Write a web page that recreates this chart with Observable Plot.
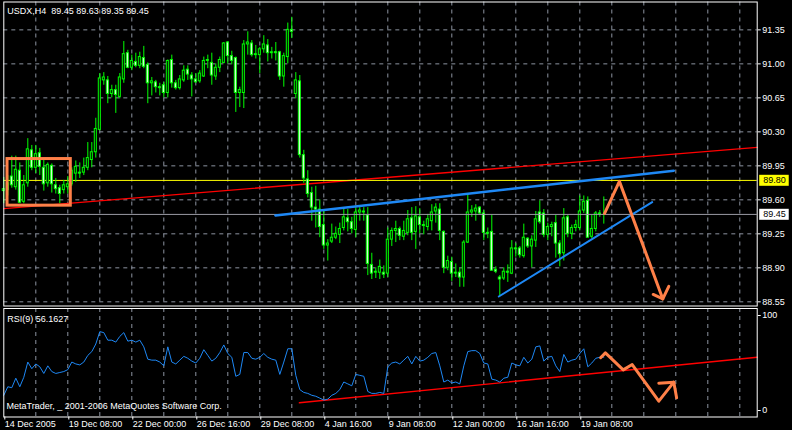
<!DOCTYPE html>
<html><head><meta charset="utf-8">
<script src="https://cdn.jsdelivr.net/npm/d3@7"></script>
<script src="https://cdn.jsdelivr.net/npm/@observablehq/plot@0.6"></script>
<style>
html,body{margin:0;padding:0;background:#000;}
#chart{width:792px;height:430px;background:#000;overflow:hidden;}
#chart svg{display:block;}
</style></head><body><div id="chart"></div>
<script>
// ---- Data (USDX, H4) ----
const opens = [89.69,89.70,89.84,89.73,89.90,89.58,89.77,90.11,89.93,90.08, 89.93,89.77,89.95,89.75,89.72,89.70,89.73,89.76,89.87,89.88, 89.88,89.93,90.01,90.09,90.32,90.83,90.83,90.69,90.73,90.66, 90.84,91.11,90.96,91.02,90.98,91.06,90.99,90.80,90.81,90.76, 90.78,90.70,91.04,90.80,90.75,90.83,90.94,90.88,90.84,90.82, 90.87,91.03,91.01,90.87,90.96,91.01,91.22,91.08,91.06,90.70, 90.70,91.20,91.21,91.09,91.09,91.15,91.19,91.11,91.12,91.12, 90.87,91.07,91.35,90.69,90.82,90.06,89.81,89.67,89.52,89.50, 89.34,89.13,89.17,89.21,89.24,89.31,89.41,89.37,89.29,89.47, 89.48,89.44,88.93,88.85,88.85,88.85,88.84,89.19,89.28,89.30, 89.22,89.26,89.41,89.27,89.42,89.34,89.32,89.38,89.48,89.50, 89.27,88.90,88.96,88.84,88.85,88.80,89.16,89.47,89.48,89.52, 89.46,89.26,89.27,88.88,88.80,88.79,88.86,88.84,89.10,89.10, 89.02,89.20,89.12,89.18,89.47,89.46,89.24,89.32,89.36,89.15, 89.05,89.42,89.25,89.31,89.31,89.49,89.59,89.22,89.30,89.46, 89.45];
const highs = [89.83,89.85,90.05,90.05,89.98,89.85,90.23,90.16,90.16,90.13, 90.01,89.98,89.97,89.82,89.75,89.80,89.84,89.93,90.00,89.98, 90.03,90.19,90.19,90.44,90.90,90.91,90.87,90.78,90.78,90.90, 91.23,91.14,91.09,91.11,91.12,91.18,91.01,90.86,90.83,90.80, 90.81,91.04,91.09,90.83,90.88,90.98,90.98,90.91,90.90,90.93, 91.07,91.09,91.11,91.00,91.07,91.22,91.23,91.13,91.07,90.76, 91.24,91.33,91.24,91.19,91.17,91.29,91.25,91.17,91.22,91.13, 91.11,91.42,91.48,90.91,90.88,90.11,89.90,89.73,89.74,89.60, 89.50,89.19,89.35,89.32,89.36,89.51,89.50,89.42,89.52,89.52, 89.52,89.52,89.05,88.90,88.98,88.92,89.31,89.31,89.38,89.32, 89.38,89.49,89.52,89.53,89.51,89.38,89.45,89.55,89.56,89.56, 89.28,89.02,89.01,88.94,88.90,89.18,89.66,89.54,89.55,89.53, 89.49,89.31,89.44,88.91,88.82,88.90,88.93,89.18,89.15,89.12, 89.35,89.21,89.23,89.48,89.59,89.50,89.36,89.37,89.44,89.18, 89.51,89.44,89.34,89.39,89.64,89.64,89.63,89.44,89.48,89.49, 89.63];
const lows = [89.56,89.64,89.72,89.70,89.56,89.56,89.73,89.90,89.87,89.85, 89.69,89.73,89.67,89.66,89.56,89.66,89.66,89.74,89.78,89.82, 89.85,89.90,89.93,90.03,90.31,90.78,90.59,90.65,90.49,90.64, 90.80,90.95,90.93,90.96,90.95,90.95,90.59,90.67,90.70,90.67, 90.65,90.65,90.75,90.73,90.73,90.81,90.83,90.66,90.80,90.80, 90.86,90.95,90.78,90.83,90.91,91.00,91.00,90.99,90.50,90.55, 90.54,91.09,91.07,91.05,90.90,91.11,91.02,91.05,91.03,90.83, 90.76,91.00,91.26,90.64,90.03,89.77,89.62,89.38,89.31,89.21, 89.09,88.97,89.15,89.19,89.15,89.28,89.27,89.25,89.21,89.38, 89.38,88.82,88.78,88.79,88.78,88.79,88.80,89.12,89.16,89.18, 89.18,89.23,89.18,89.09,89.25,89.24,89.28,89.28,89.36,89.18, 88.84,88.87,88.76,88.80,88.70,88.70,89.15,89.42,89.38,89.44, 89.18,89.20,88.87,88.84,88.61,88.77,88.75,88.83,89.01,89.00, 89.00,89.10,88.90,89.11,89.35,89.21,89.18,89.22,89.00,88.91, 88.97,89.21,89.19,89.27,89.28,89.46,89.21,89.20,89.27,89.42, 89.35];
const closes = [89.71,89.77,89.75,89.91,89.57,89.75,90.12,89.93,90.07,89.94, 89.76,89.96,89.76,89.71,89.66,89.75,89.76,89.90,89.94,89.87, 89.93,90.03,90.09,90.33,90.85,90.86,90.69,90.73,90.68,90.86, 91.10,90.96,91.03,90.98,91.07,90.97,90.80,90.82,90.76,90.75, 90.70,91.03,90.80,90.75,90.84,90.93,90.89,90.84,90.81,90.90, 91.03,91.04,90.88,90.96,91.04,91.21,91.08,91.03,90.70,90.73, 91.20,91.22,91.09,91.10,91.15,91.20,91.11,91.12,91.11,90.87, 91.08,91.35,91.33,90.83,90.06,89.82,89.66,89.52,89.50,89.32, 89.13,89.15,89.21,89.25,89.30,89.42,89.37,89.30,89.47,89.49, 89.47,88.94,88.84,88.86,88.91,88.83,89.19,89.28,89.30,89.23, 89.28,89.40,89.26,89.43,89.34,89.33,89.40,89.47,89.52,89.28, 88.90,88.97,88.84,88.85,88.80,89.16,89.47,89.49,89.51,89.46, 89.26,89.25,88.87,88.86,88.78,88.86,88.85,89.10,89.09,89.03, 89.21,89.12,89.19,89.40,89.37,89.24,89.32,89.34,89.15,89.04, 89.41,89.25,89.31,89.34,89.48,89.58,89.21,89.30,89.46,89.45, 89.45];
const rsiValues = [16,25,24,34,25,35,51,44,49,46, 39,47,41,39,40,41,43,51,49,48, 51,58,62,70,83,82,74,74,72,78, 82,73,74,72,74,67,54,53,53,51, 47,67,51,49,53,57,55,52,50,55, 64,58,52,55,61,69,60,56,36,38, 61,61,55,54,56,60,56,54,53,38, 51,65,65,37,22,19,18,16,15,13, 11,12,16,18,22,30,28,26,38,37, 36,20,18,18,19,18,46,50,51,49, 53,57,49,57,52,53,56,60,61,47, 30,32,29,30,28,47,62,63,63,60, 50,49,33,32,30,34,35,50,48,47, 56,50,54,67,68,52,56,57,47,41, 59,51,53,54,60,65,46,50,55,56, 56.16];

const priceTicks = [88.55, 88.90, 89.25, 89.60, 89.95, 90.30, 90.65, 91.00, 91.35];
const rsiTicks = [0, 100];
const dateTickBars = [0, 16, 32, 48, 64, 80, 96, 112, 128, 144];
const dateTickLabels = ["14 Dec 2005", "19 Dec 08:00", "22 Dec 00:00", "26 Dec 16:00", "29 Dec 08:00", "4 Jan 16:00", "9 Jan 08:00", "12 Jan 00:00", "16 Jan 16:00", "19 Jan 08:00"];
const gridBars = [8,16,24,32,40,48,56,64,72,80,88,96,104,112,120,128,136,144,152,160,168,176,184];

const symbolTitle = "USDX,H4\u00a0\u00a089.45 89.63 89.35 89.45";
const rsiTitle = "RSI(9) 56.1627";
const copyright = "MetaTrader, _ 2001-2006 MetaQuotes Software Corp.";
const resistanceLevel = 89.80;
const bidLevel = 89.45;

// drawn objects (bar index, price / rsi value)
const redTrendMain = [{i: 0, p: 89.51}, {i: 188.35, p: 90.14}];
const blueUpper = [{i: 67.9, p: 89.44}, {i: 167.5, p: 89.90}];
const blueLower = [{i: 123.75, p: 88.605}, {i: 162.1, p: 89.576}];
const orangeBox = [{i1: 0.93, i2: 16.75, p1: 89.54, p2: 90.02}];
const orangeArrowMain = [
  {s: "a", i: 150.2, p: 89.46}, {s: "a", i: 153.9, p: 89.79}, {s: "a", i: 164.75, p: 88.58},
  {s: "b", i: 162.35, p: 88.626}, {s: "b", i: 164.75, p: 88.58}, {s: "b", i: 166.25, p: 88.71}
];
const redTrendRsi = [{i: 73.9, v: 8.1}, {i: 188.35, v: 56.1}];
const orangeArrowRsi = [
  {s: "a", i: 149.2, v: 55.5}, {s: "a", i: 150.4, v: 60.7}, {s: "a", i: 154.85, v: 42.8},
  {s: "a", i: 157.1, v: 48.4}, {s: "a", i: 163.75, v: 9.8}, {s: "a", i: 167.5, v: 29.8},
  {s: "b", i: 163.75, v: 28.7}, {s: "b", i: 167.5, v: 29.8}, {s: "b", i: 168.2, v: 13.4}
];

// ---- Build ----
const bars = opens.map((o, i) => ({i, o, h: highs[i], l: lows[i], c: closes[i]}));
const rsi = rsiValues.map((v, i) => ({i, v}));

const GRID = "#8c93a0";
const LIME = "#00ff00";
const ORANGE = "#ff8048";
const BLUE = "#1e88f5";
const X_DOMAIN = [0, 188.35];
const FONT = "'Liberation Sans', Arial, sans-serif";
const common = {
  width: 792, marginLeft: 3.3, marginRight: 35.3,
  style: {background: "#000", color: "#fff", fontFamily: FONT, fontSize: "9px", overflow: "visible"}
};

const main = Plot.plot({
  ...common,
  height: 306, marginTop: 1.5, marginBottom: 0.5,
  x: {domain: X_DOMAIN, axis: null, label: null},
  y: {domain: [88.507, 91.637], label: null},
  marks: [
    Plot.gridY(priceTicks, {stroke: GRID, strokeOpacity: 1, strokeDasharray: "4,4"}),
    Plot.gridX(gridBars, {stroke: GRID, strokeOpacity: 1, strokeDasharray: "4,4"}),
    Plot.line(redTrendMain, {x: "i", y: "p", stroke: "#ff0000", strokeWidth: 1.4}),
    Plot.ruleY([resistanceLevel], {stroke: "#ffff00", strokeWidth: 1}),
    Plot.ruleX(bars, {x: "i", y1: "l", y2: "h", stroke: LIME}),
    Plot.rect(bars.filter(d => d.c > d.o), {x1: d => d.i - 0.25, x2: d => d.i + 0.25, y1: "o", y2: "c", fill: "#000", stroke: LIME}),
    Plot.rect(bars.filter(d => d.c < d.o), {x1: d => d.i - 0.25, x2: d => d.i + 0.25, y1: "o", y2: "c", fill: "#fff", stroke: LIME}),
    Plot.ruleY(bars.filter(d => d.c === d.o), {y: "c", x1: d => d.i - 0.4, x2: d => d.i + 0.4, stroke: LIME}),
    Plot.ruleY([bidLevel], {stroke: "#9a9aa4", strokeWidth: 1}),
    Plot.line(blueUpper, {x: "i", y: "p", stroke: BLUE, strokeWidth: 2.5}),
    Plot.line(blueLower, {x: "i", y: "p", stroke: BLUE, strokeWidth: 2}),
    Plot.rect(orangeBox, {x1: "i1", x2: "i2", y1: "p1", y2: "p2", fill: "none", stroke: ORANGE, strokeWidth: 3}),
    Plot.line(orangeArrowMain, {x: "i", y: "p", z: "s", stroke: ORANGE, strokeWidth: 3, strokeLinejoin: "round", strokeLinecap: "round"}),
    Plot.axisY(priceTicks, {anchor: "right", label: null, tickSize: 3, tickPadding: 2, tickFormat: d => d.toFixed(2), stroke: "#fff", fill: "#fff"}),
    Plot.text([resistanceLevel], {y: d => d, frameAnchor: "right", dx: 6, textAnchor: "start", text: d => d.toFixed(2), fill: "#000"}),
    Plot.text([bidLevel], {y: d => d, frameAnchor: "right", dx: 6, textAnchor: "start", text: d => d.toFixed(2), fill: "#000"}),
    Plot.frame({stroke: "#fff"}),
    Plot.text([symbolTitle], {frameAnchor: "top-left", dx: 3.4, dy: 5.8, lineAnchor: "top", fill: "#fff", text: d => d})
  ]
});

const sub = Plot.plot({
  ...common,
  height: 124, marginTop: 2, marginBottom: 13.5,
  x: {domain: X_DOMAIN, label: null},
  y: {domain: [-6.84, 107.37], label: null},
  marks: [
    Plot.gridX(gridBars, {stroke: GRID, strokeOpacity: 1, strokeDasharray: "4,4"}),
    Plot.line(redTrendRsi, {x: "i", y: "v", stroke: "#ff0000", strokeWidth: 1.4}),
    Plot.line(rsi, {x: "i", y: "v", stroke: BLUE, strokeWidth: 1}),
    Plot.line(orangeArrowRsi, {x: "i", y: "v", z: "s", stroke: ORANGE, strokeWidth: 3, strokeLinejoin: "round", strokeLinecap: "round"}),
    Plot.axisY(rsiTicks, {anchor: "right", label: null, tickSize: 3, tickPadding: 2, stroke: "#fff", fill: "#fff"}),
    Plot.axisX(dateTickBars, {anchor: "bottom", label: null, tickSize: 3, tickPadding: 1, textAnchor: "start", dx: 1, tickFormat: d => dateTickLabels[dateTickBars.indexOf(d)], stroke: "#fff", fill: "#fff"}),
    Plot.frame({stroke: "#fff"}),
    Plot.text([rsiTitle], {frameAnchor: "top-left", dx: 3.4, dy: 7, lineAnchor: "top", fill: "#fff", text: d => d}),
    Plot.text([copyright], {frameAnchor: "top-left", dx: 2.7, dy: 93.7, lineAnchor: "top", fill: "#fff", text: d => d})
  ]
});

const root = document.getElementById("chart");
root.appendChild(main);
root.appendChild(sub);

// price tags behind the level labels
function addTag(svg, label, color) {
  d3.select(svg).selectAll("text")
    .filter(function () { return this.textContent === label && this.closest("g[aria-label='text']"); })
    .each(function () {
      const b = this.getBBox();
      const cy = b.y + b.height / 2;
      d3.select(this.parentNode).insert("rect", () => this)
        .attr("x", b.x - 4).attr("y", cy - 5.5)
        .attr("width", b.width + 7).attr("height", 11)
        .attr("fill", color)
        .attr("transform", this.getAttribute("transform"));
    });
}
addTag(main, resistanceLevel.toFixed(2), "#ffff00");
addTag(main, bidLevel.toFixed(2), "#ffffff");
</script>
</body></html>
